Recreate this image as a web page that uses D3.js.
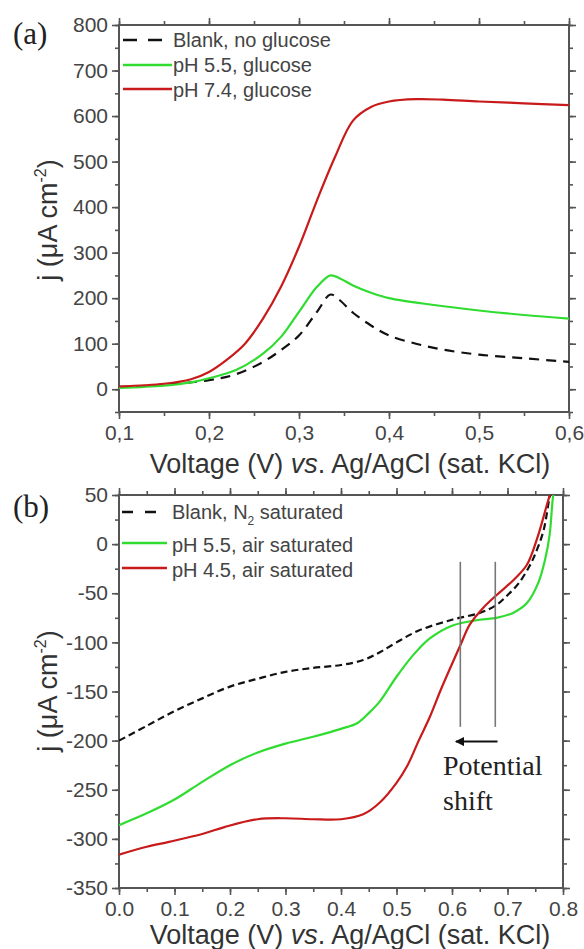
<!DOCTYPE html>
<html><head><meta charset="utf-8">
<script src="https://cdn.jsdelivr.net/npm/d3@7"></script>
<style>
html,body{margin:0;padding:0;background:#fff;}
svg{display:block;}
text{font-family:"Liberation Sans",Arial,sans-serif;}
</style></head>
<body>
<svg id="c" width="584" height="949"></svg>
<script>
// ---------- Panel (a) data ----------
const aBlankV = [0.10,0.15,0.20,0.23,0.26,0.28,0.30,0.32,0.335,0.345,0.36,0.38,0.40,0.43,0.46,0.50,0.55,0.60];
const aBlankJ = [5,10,20,33,60,86,118,170,208,196,168,140,118,100,87,76,68,60];
const aPH55V  = [0.10,0.15,0.18,0.20,0.23,0.26,0.28,0.30,0.32,0.335,0.345,0.36,0.38,0.40,0.45,0.50,0.55,0.60];
const aPH55J  = [3,8,15,24,42,78,115,170,225,250,244,228,212,200,185,173,163,155];
const aPH74V  = [0.10,0.15,0.18,0.20,0.22,0.24,0.26,0.28,0.30,0.32,0.34,0.36,0.38,0.40,0.43,0.46,0.50,0.55,0.60];
const aPH74J  = [6,12,22,38,65,100,155,225,313,415,510,590,620,632,637,636,632,628,624];
const aXTicks = [0.1,0.2,0.3,0.4,0.5,0.6];
const aYTicks = [0,100,200,300,400,500,600,700,800];
const aLegend = ["Blank, no glucose","pH 5.5, glucose","pH 7.4, glucose"];

// ---------- Panel (b) data ----------
const bBlankV = [0.00,0.05,0.10,0.15,0.20,0.25,0.30,0.35,0.40,0.44,0.47,0.50,0.54,0.60,0.65,0.68,0.70,0.72,0.74,0.75,0.765,0.776,0.782];
const bBlankJ = [-200,-185,-170,-157,-145,-137,-130,-126,-123,-118,-110,-100,-88,-77,-70,-62,-52,-40,-22,-10,14,48,60];
const bPH55V  = [0.00,0.05,0.10,0.15,0.20,0.25,0.30,0.35,0.40,0.43,0.45,0.47,0.50,0.53,0.56,0.60,0.65,0.68,0.71,0.735,0.755,0.768,0.776,0.782,0.786];
const bPH55J  = [-286,-274,-260,-242,-225,-212,-203,-196,-188,-182,-172,-160,-135,-113,-96,-83,-77,-75,-70,-60,-40,-15,10,48,60];
const bPH45V  = [0.00,0.05,0.09,0.15,0.19,0.25,0.30,0.35,0.40,0.44,0.47,0.50,0.52,0.54,0.56,0.58,0.60,0.615,0.632,0.656,0.68,0.71,0.735,0.753,0.771,0.776,0.779];
const bPH45J  = [-316,-308,-303,-295,-288,-280,-279,-280,-280,-275,-263,-243,-225,-200,-176,-148,-122,-103,-82,-65,-52,-37,-21,5,40,50,60];
const bXTicks = [0.0,0.1,0.2,0.3,0.4,0.5,0.6,0.7,0.8];
const bYTicks = [50,0,-50,-100,-150,-200,-250,-300,-350];
const bLegend = ["Blank, N","pH 5.5, air saturated","pH 4.5, air saturated"];
const shiftLinesV = [0.615,0.678];
const shiftLinesJ = [-18,-186];
const arrowV = [0.682,0.607];
const arrowJ = -201;

const GREEN = "#30dc30", RED = "#c81a1a", BLACK = "#111";
const AX = "#555", TXT = "#444";

const svg = d3.select("#c");
const defs = svg.append("defs");
defs.append("marker").attr("id","arr").attr("viewBox","0 0 10 10").attr("refX",9).attr("refY",5)
  .attr("markerWidth",4.5).attr("markerHeight",4.5).attr("orient","auto-start-reverse").attr("markerUnits","strokeWidth")
  .append("path").attr("d","M0,0L10,5L0,10z").attr("fill","#111");

const intFmt = d => String(Math.round(d));

function panel(opt){
  const x = d3.scaleLinear().domain(opt.xd).range([opt.l,opt.r]);
  const y = d3.scaleLinear().domain(opt.yd).range([opt.b,opt.t]);
  const g = svg.append("g");
  const cid = "clip"+opt.id;
  defs.append("clipPath").attr("id",cid).append("rect")
    .attr("x",opt.l).attr("y",opt.t).attr("width",opt.r-opt.l).attr("height",opt.b-opt.t);

  const minorX = d3.range(opt.xd[0], opt.xd[1]+1e-9, opt.xmin);
  const minorY = d3.range(opt.yd[0], opt.yd[1]+1e-9, opt.ymin);
  function styleAxis(sel){
    sel.select(".domain").remove();
    sel.selectAll(".tick line").attr("stroke",AX).attr("stroke-width",1.6);
    sel.selectAll(".tick text").attr("fill",TXT).style("font-size","21px");
  }
  [[d3.axisBottom(x),`translate(0,${opt.b})`,minorX],[d3.axisTop(x),`translate(0,${opt.t})`,minorX],
   [d3.axisLeft(y),`translate(${opt.l},0)`,minorY],[d3.axisRight(y),`translate(${opt.r},0)`,minorY]]
   .forEach(([ax,tr,vals])=>{
     g.append("g").attr("transform",tr).call(ax.tickValues(vals).tickSize(4).tickFormat("")).call(styleAxis);
   });
  g.append("g").attr("transform",`translate(0,${opt.b})`)
    .call(d3.axisBottom(x).tickValues(opt.xt).tickSize(7).tickPadding(6).tickFormat(opt.xf)).call(styleAxis);
  g.append("g").attr("transform",`translate(0,${opt.t})`)
    .call(d3.axisTop(x).tickValues(opt.xt).tickSize(7).tickFormat("")).call(styleAxis);
  g.append("g").attr("transform",`translate(${opt.l},0)`)
    .call(d3.axisLeft(y).tickValues(opt.yt).tickSize(7).tickPadding(4).tickFormat(intFmt)).call(styleAxis);
  g.append("g").attr("transform",`translate(${opt.r},0)`)
    .call(d3.axisRight(y).tickValues(opt.yt).tickSize(7).tickFormat("")).call(styleAxis);

  g.append("rect").attr("x",opt.l).attr("y",opt.t).attr("width",opt.r-opt.l).attr("height",opt.b-opt.t)
    .attr("fill","none").attr("stroke",AX).attr("stroke-width",2);

  const line = d3.line().x(d=>x(d[0])).y(d=>y(d[1])).curve(d3.curveCatmullRom.alpha(0.5));
  const lg = g.append("g").attr("clip-path",`url(#${cid})`);
  opt.series.forEach(s=>{
    lg.append("path").datum(d3.zip(s.v,s.j)).attr("d",line).attr("fill","none")
      .attr("stroke",s.c).attr("stroke-width",2.2).attr("stroke-dasharray",s.dash||null)
      .attr("stroke-linejoin","round");
  });
  return {x,y,g};
}

const A = panel({id:"a", l:119, r:569, t:25, b:412, xd:[0.1,0.6], yd:[-50,800], xmin:0.05, ymin:50,
  xt:aXTicks, yt:aYTicks, xf:d=>d.toFixed(1).replace(".",","),
  series:[{v:aBlankV,j:aBlankJ,c:BLACK,dash:"10,7"},{v:aPH55V,j:aPH55J,c:GREEN},{v:aPH74V,j:aPH74J,c:RED}]});

const B = panel({id:"b", l:119, r:563, t:495, b:888, xd:[0,0.8], yd:[-350,50], xmin:0.05, ymin:25,
  xt:bXTicks, yt:bYTicks, xf:d=>d.toFixed(1),
  series:[{v:bBlankV,j:bBlankJ,c:BLACK,dash:"7,4"},{v:bPH55V,j:bPH55J,c:GREEN},{v:bPH45V,j:bPH45J,c:RED}]});

// shift lines & arrow
shiftLinesV.forEach(v=>{
  B.g.append("line").attr("x1",B.x(v)).attr("x2",B.x(v)).attr("y1",B.y(shiftLinesJ[0])).attr("y2",B.y(shiftLinesJ[1]))
    .attr("stroke","#777").attr("stroke-width",1.6);
});
B.g.append("line").attr("x1",B.x(arrowV[0])).attr("x2",B.x(arrowV[1])).attr("y1",B.y(arrowJ)).attr("y2",B.y(arrowJ))
  .attr("stroke","#111").attr("stroke-width",2).attr("marker-end","url(#arr)");
B.g.append("text").attr("x",443).attr("y",775).style("font-family","'Liberation Serif','Times New Roman',serif")
  .style("font-size","28px").attr("fill","#222").text("Potential");
B.g.append("text").attr("x",443).attr("y",810).style("font-family","'Liberation Serif','Times New Roman',serif")
  .style("font-size","28px").attr("fill","#222").text("shift");

// legends
function legendLines(g, rows, colors, dashes, x1, x2){
  rows.forEach((yy,i)=>{
    g.append("line").attr("x1",x1).attr("x2",dashes[i]?x2-10:x2).attr("y1",yy).attr("y2",yy)
      .attr("stroke",colors[i]).attr("stroke-width",2.4).attr("stroke-dasharray",dashes[i]||null);
  });
}
legendLines(A.g,[40,65,89],[BLACK,GREEN,RED],["14,11",null,null],123,172);
aLegend.forEach((t,i)=>{
  A.g.append("text").attr("x",173).attr("y",[47,72,97][i]).attr("fill",TXT).style("font-size","20px").text(t);
});
legendLines(B.g,[512,543,568],[BLACK,GREEN,RED],["11,12",null,null],122,167);
const bl0 = B.g.append("text").attr("x",172).attr("y",519).attr("fill",TXT).style("font-size","20px");
bl0.append("tspan").text(bLegend[0]);
bl0.append("tspan").attr("dy",6).style("font-size","12px").text("2");
bl0.append("tspan").attr("dy",-6).text(" saturated");
[1,2].forEach(i=>{
  B.g.append("text").attr("x",172).attr("y",[519,552,577][i]).attr("fill",TXT).style("font-size","20px").text(bLegend[i]);
});

// axis titles
function xTitle(y){
  const t = svg.append("text").attr("x",350).attr("y",y).attr("text-anchor","middle").attr("fill","#333").style("font-size","27px");
  t.append("tspan").text("Voltage (V) ");
  t.append("tspan").style("font-style","italic").text("vs");
  t.append("tspan").text(". Ag/AgCl (sat. KCl)");
}
xTitle(473); xTitle(944);
function yTitle(cy){
  const t = svg.append("text").attr("transform",`translate(57,${cy}) rotate(-90)`).attr("text-anchor","middle")
    .attr("fill","#333").style("font-size","27px");
  t.append("tspan").text("j (\u03bcA cm");
  t.append("tspan").attr("dy",-11).style("font-size","16px").text("-2");
  t.append("tspan").attr("dy",11).text(")");
}
yTitle(220); yTitle(691);

svg.append("text").attr("x",13).attr("y",44).style("font-family","'Liberation Serif','Times New Roman',serif")
  .style("font-size","31px").attr("fill","#222").text("(a)");
svg.append("text").attr("x",13).attr("y",517).style("font-family","'Liberation Serif','Times New Roman',serif")
  .style("font-size","31px").attr("fill","#222").text("(b)");
</script>
</body></html>
